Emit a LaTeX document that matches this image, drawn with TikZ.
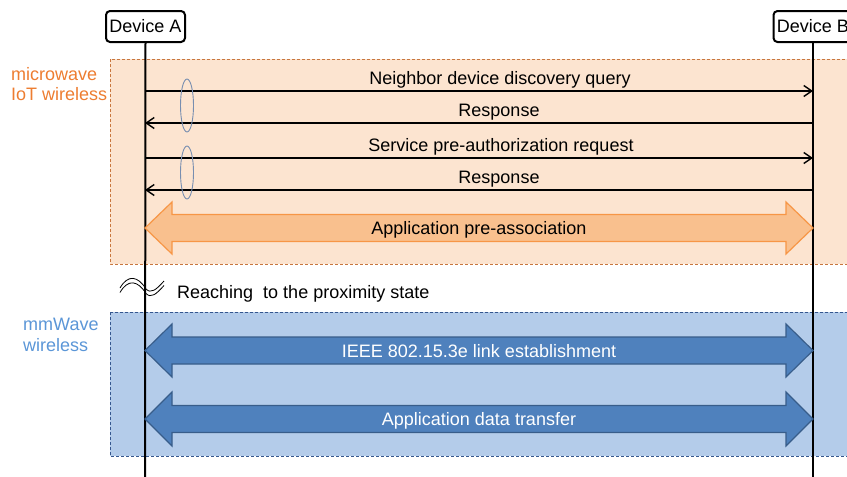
\documentclass[tikz,border=0pt]{standalone}
\usepackage{fontspec}
\setmainfont{Liberation Sans}
\usetikzlibrary{arrows.meta}

\definecolor{orbg}{RGB}{252,228,208}
\definecolor{orline}{RGB}{200,118,62}
\definecolor{ortext}{RGB}{237,125,49}
\definecolor{orarrow}{RGB}{249,192,142}
\definecolor{orarrowline}{RGB}{247,150,70}
\definecolor{blbg}{RGB}{180,204,234}
\definecolor{blline}{RGB}{53,87,143}
\definecolor{bltext}{RGB}{91,150,215}
\definecolor{blarrow}{RGB}{79,129,189}
\definecolor{blarrowline}{RGB}{56,93,138}
\definecolor{ellcol}{RGB}{120,142,176}

% double-headed block arrow between the two lifelines, centred on height #1
\newcommand\fatdbl[3]{%
  \begin{scope}[shift={(0,#1)}]
    \draw[#2] (145,0) -- (172,-#3) -- (172,-13.5) -- (786,-13.5) -- (786,-#3)
      -- (813,0) -- (786,#3) -- (786,13.5) -- (172,13.5) -- (172,#3) -- cycle;
  \end{scope}}

\begin{document}
\begin{tikzpicture}[x=1pt,y=-1pt,
  every node/.style={font=\fontsize{18}{21}\selectfont, inner sep=0pt},
  device/.style={draw, line width=2pt, rounded corners=4pt, fill=white,
    minimum width=79pt, minimum height=31pt},
  life/.style={line width=2pt},
  msg/.style={line width=1.4pt, -{Straight Barb[length=8pt,width=11pt,line width=1.4pt]}},
  lbl/.style={anchor=base},
  band/.style={dash pattern=on 3pt off 2pt, line width=1pt},
  ell/.style={draw=ellcol, line width=0.9pt},
  ordbl/.style={fill=orarrow, draw=orarrowline, line width=1.2pt},
  bldbl/.style={fill=blarrow, draw=blarrowline, line width=1.2pt},
]
\useasboundingbox (0,0) rectangle (847,477);
\clip (0,0) rectangle (847,477);

% coloured bands for the two radio technologies
\draw[band, fill=orbg, draw=orline] (110,59) rectangle (880,264);
\draw[band, fill=blbg, draw=blline] (110,312) rectangle (880,456);

\node[anchor=base west, text=ortext] (mw1) at (11,80) {microwave};
\node[anchor=base west, text=ortext] (mw2) at (11,100) {IoT wireless};
\node[anchor=base west, text=bltext] (mm1) at (23,330) {mmWave};
\node[anchor=base west, text=bltext] (mm2) at (23,351) {wireless};

% devices and lifelines
\node[device] (A) at (145.5,26.5) {Device A};
\node[device] (B) at (813,26.5) {Device B};
\coordinate (Aend) at (145,477);
\coordinate (Bend) at (813,477);
\draw[life] (A.south) -- (Aend);
\draw[life] (B.south) -- (Bend);

% message exchange over the microwave link
\foreach \n/\y in {1/91,2/123,3/158,4/190}{
  \coordinate (a\n) at (145,\y);
  \coordinate (b\n) at (813,\y);
}
\draw[msg] (a1) -- (b1);
\draw[msg] (b2) -- (a2);
\draw[msg] (a3) -- (b3);
\draw[msg] (b4) -- (a4);
\node[lbl] (m1) at (500,84) {Neighbor device discovery query};
\node[lbl] (m2) at (499,116) {Response};
\node[lbl] (m3) at (501,151) {Service pre-authorization request};
\node[lbl] (m4) at (499,183) {Response};

\draw[ell] (187,105.5) ellipse [x radius=6.5pt, y radius=26.5pt];
\draw[ell] (187,172.5) ellipse [x radius=6.5pt, y radius=26.5pt];

\fatdbl{228}{ordbl}{26}
\node[lbl] (pa) at (479,234.5) {Application pre-association};

% proximity break mark
\coordinate (w1) at (120,288);
\coordinate (w2) at (120,292.5);
\draw[line width=0.8pt] (w1) .. controls (128,274) and (138,276) .. (146,289)
  .. controls (151,294) and (156,290) .. (164,281);
\draw[line width=0.8pt] (w2) .. controls (128,278.5) and (138,280.5) .. (146,293.5)
  .. controls (151,298.5) and (156,294.5) .. (164,285.5);
\node[anchor=base west] (prox) at (177,298) {Reaching\ \ to the proximity state};

% mmWave phase
\fatdbl{350.5}{bldbl}{26.5}
\node[lbl, text=white] (ieee) at (479,357) {IEEE 802.15.3e link establishment};
\fatdbl{419}{bldbl}{27}
\node[lbl, text=white] (adt) at (479,425.5) {Application data transfer};
\end{tikzpicture}
\end{document}
